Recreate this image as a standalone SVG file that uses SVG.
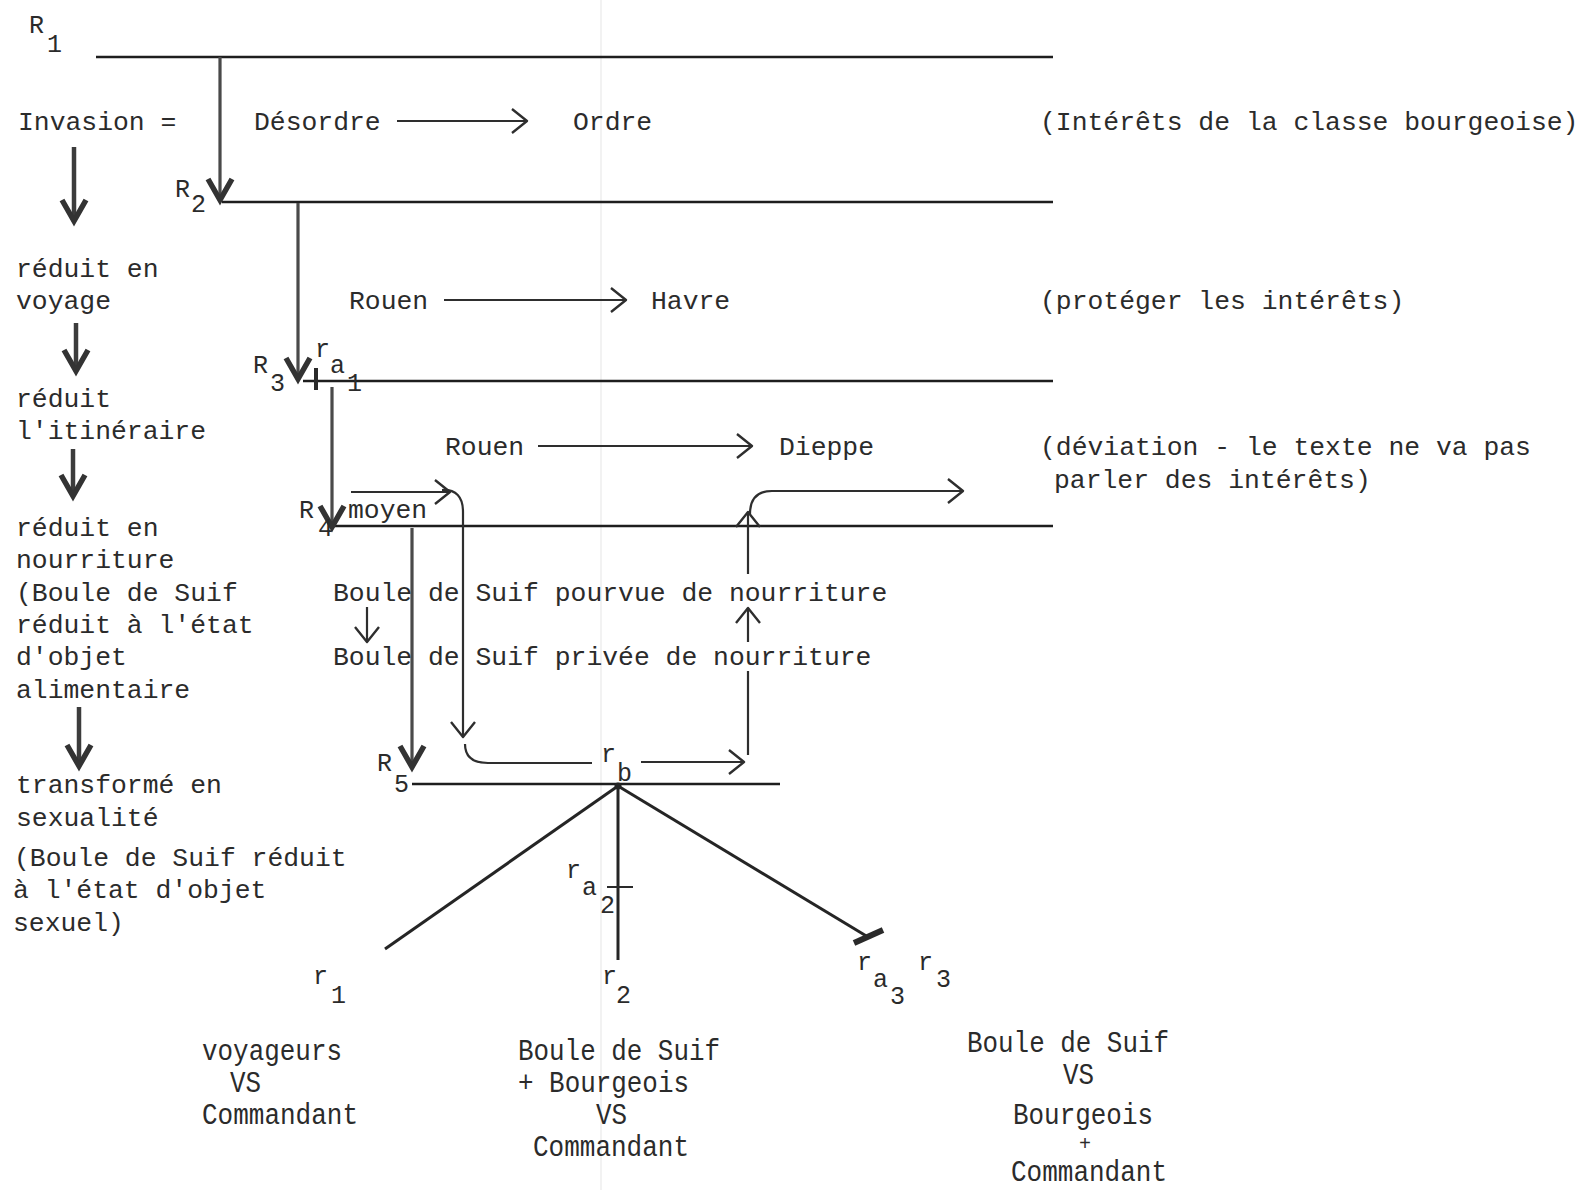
<svg xmlns="http://www.w3.org/2000/svg" width="1583" height="1190" viewBox="0 0 1583 1190">
  <style>
    .t { font-family: "Liberation Mono", "Courier New", monospace; font-size: 26.4px; fill: #2b2b2b; }
    .s { font-family: "Liberation Mono", "Courier New", monospace; font-size: 25px; fill: #2b2b2b; }
    .n { font-family: "Liberation Mono", "Courier New", monospace; font-size: 29px; fill: #2b2b2b; }
    .level { stroke: #1e1e1e; stroke-width: 2.6; fill: none; }
    .drop { stroke: #4a4a4a; stroke-width: 3.2; fill: none; marker-end: url(#vee); }
    .step { stroke: #3c3c3c; stroke-width: 4.5; fill: none; marker-end: url(#vee); }
    .thin { stroke: #2e2e2e; stroke-width: 2.2; fill: none; }
    .arr { marker-end: url(#chev); }
    .tree { stroke: #252525; stroke-width: 3; fill: none; }
  </style>
  <defs>
    <marker id="vee" markerUnits="userSpaceOnUse" orient="auto" overflow="visible" markerWidth="1" markerHeight="1" refX="0" refY="0">
      <path d="M-21,-12 L0,0 L-21,12" fill="none" stroke="#333" stroke-width="5.5" stroke-linejoin="miter"/>
    </marker>
    <marker id="chev" markerUnits="userSpaceOnUse" orient="auto" overflow="visible" markerWidth="1" markerHeight="1" refX="0" refY="0">
      <path d="M-15,-12 L0,0 L-15,12" fill="none" stroke="#2e2e2e" stroke-width="2.4" stroke-linejoin="round"/>
    </marker>
  </defs>

  <rect width="1583" height="1190" fill="#ffffff"/>
  <!-- paper fold -->
  <line x1="601" y1="0" x2="601" y2="1190" stroke="#eeeeee" stroke-width="1.5"/>

  <g id="connectors">
    <!-- reading levels -->
    <path class="level" d="M96,57 H1053"/>
    <path class="level" d="M222,202 H1053"/>
    <path class="level" d="M303,381 H1053"/>
    <path class="level" d="M333,526 H1053"/>
    <path class="level" d="M412,784 H780"/>

    <!-- descent between levels -->
    <path class="drop" d="M220,57 V200"/>
    <path class="drop" d="M298,203 V379"/>
    <path class="drop" d="M332,387 V527"/>
    <path class="drop" d="M412,528 V767"/>

    <!-- left column chain -->
    <path class="step" d="M74,147 V221"/>
    <path class="step" d="M76,323 V371"/>
    <path class="step" d="M73,449 V496"/>
    <path class="step" d="M79,707 V766"/>

    <!-- itinerary arrows -->
    <path class="thin arr" d="M397,121 H527"/>
    <path class="thin arr" d="M444,300 H626"/>
    <path class="thin arr" d="M538,446 H752"/>

    <!-- moyen loop -->
    <path class="thin arr" d="M351,492 H450"/>
    <path class="thin arr" d="M442,490 Q463,489 463,512 V737"/>
    <path class="thin" d="M465,744 Q465,763 488,763 H592" stroke-width="2.8"/>
    <path class="thin arr" d="M641,762 H744"/>
    <path class="thin" d="M748,755 V671"/>
    <path class="thin arr" d="M748,642 V608"/>
    <path class="thin arr" d="M748,574 V512"/>
    <path class="thin arr" d="M750,514 Q750,491 772,491 H963" stroke-width="2.8"/>
    <path class="thin arr" d="M367,607 V642" stroke-width="2.6"/>

    <!-- r_b branches -->
    <path class="tree" d="M618,786 L385,949"/>
    <path class="tree" d="M618,786 V960"/>
    <path class="tree" d="M618,786 L868,937"/>
    <circle cx="618" cy="786" r="3.5" fill="#252525"/>
    <path d="M854,943 L883,930" stroke="#2a2a2a" stroke-width="6"/>
    <path d="M607,887 H633" stroke="#2a2a2a" stroke-width="2"/>
    <path d="M316,368 V390" stroke="#2a2a2a" stroke-width="4"/>
  </g>

  <g id="level-labels">
    <text class="s" x="29" y="33">R</text><text class="s" x="47" y="52">1</text>
    <text class="s" x="175" y="197">R</text><text class="s" x="191" y="212">2</text>
    <text class="s" x="253" y="373">R</text><text class="s" x="270" y="391">3</text>
    <text class="s" x="299" y="518">R</text><text class="s" x="318" y="536">4</text>
    <text class="s" x="377" y="771">R</text><text class="s" x="394" y="792">5</text>
  </g>

  <g id="r-labels">
    <text class="s" x="315" y="357">r</text><text class="s" x="330" y="373">a</text><text class="s" x="347" y="391">1</text>
    <text class="s" x="601" y="762">r</text><text class="s" x="617" y="781">b</text>
    <text class="s" x="566" y="878">r</text><text class="s" x="582" y="895">a</text><text class="s" x="600" y="913">2</text>
    <text class="s" x="313" y="984">r</text><text class="s" x="331" y="1003">1</text>
    <text class="s" x="602" y="984">r</text><text class="s" x="616" y="1003">2</text>
    <text class="s" x="857" y="970">r</text><text class="s" x="873" y="987">a</text><text class="s" x="890" y="1004">3</text>
    <text class="s" x="918" y="970">r</text><text class="s" x="936" y="987">3</text>
  </g>

  <g id="chain">
    <text class="t" x="18" y="130">Invasion =</text>
    <text class="t" x="16" y="277">réduit en</text>
    <text class="t" x="16" y="309">voyage</text>
    <text class="t" x="16" y="407">réduit</text>
    <text class="t" x="16" y="439">l'itinéraire</text>
    <text class="t" x="16" y="536">réduit en</text>
    <text class="t" x="16" y="568">nourriture</text>
    <text class="t" x="16" y="601">(Boule de Suif</text>
    <text class="t" x="16" y="633">réduit à l'état</text>
    <text class="t" x="16" y="665">d'objet</text>
    <text class="t" x="16" y="698">alimentaire</text>
    <text class="t" x="16" y="793">transformé en</text>
    <text class="t" x="16" y="826">sexualité</text>
    <text class="t" x="14" y="866">(Boule de Suif réduit</text>
    <text class="t" x="13" y="898">à l'état d'objet</text>
    <text class="t" x="13" y="931">sexuel)</text>
  </g>

  <g id="level-1">
    <text class="t" x="254" y="130">Désordre</text>
    <text class="t" x="573" y="130">Ordre</text>
    <text class="t" x="1040" y="130">(Intérêts de la classe bourgeoise)</text>
  </g>

  <g id="level-2">
    <text class="t" x="349" y="309">Rouen</text>
    <text class="t" x="651" y="309">Havre</text>
    <text class="t" x="1040" y="309">(protéger les intérêts)</text>
  </g>

  <g id="level-3">
    <text class="t" x="445" y="455">Rouen</text>
    <text class="t" x="779" y="455">Dieppe</text>
    <text class="t" x="1040" y="455">(déviation - le texte ne va pas</text>
    <text class="t" x="1054" y="488">parler des intérêts)</text>
  </g>

  <g id="level-4">
    <text class="t" x="348" y="518">moyen</text>
    <text class="t" x="333" y="601">Boule de Suif pourvue de nourriture</text>
    <text class="t" x="333" y="665">Boule de Suif privée de nourriture</text>
  </g>

  <g id="outcome-1">
    <text class="n" x="202" y="1060" textLength="140" lengthAdjust="spacingAndGlyphs">voyageurs</text>
    <text class="n" x="230" y="1092" textLength="31" lengthAdjust="spacingAndGlyphs">VS</text>
    <text class="n" x="202" y="1124" textLength="156" lengthAdjust="spacingAndGlyphs">Commandant</text>
  </g>

  <g id="outcome-2">
    <text class="n" x="518" y="1060" textLength="202" lengthAdjust="spacingAndGlyphs">Boule de Suif</text>
    <text class="n" x="518" y="1092" textLength="171" lengthAdjust="spacingAndGlyphs">+ Bourgeois</text>
    <text class="n" x="596" y="1124" textLength="31" lengthAdjust="spacingAndGlyphs">VS</text>
    <text class="n" x="533" y="1156" textLength="156" lengthAdjust="spacingAndGlyphs">Commandant</text>
  </g>

  <g id="outcome-3">
    <text class="n" x="967" y="1052" textLength="202" lengthAdjust="spacingAndGlyphs">Boule de Suif</text>
    <text class="n" x="1063" y="1084" textLength="31" lengthAdjust="spacingAndGlyphs">VS</text>
    <text class="n" x="1013" y="1124" textLength="140" lengthAdjust="spacingAndGlyphs">Bourgeois</text>
    <text class="n" x="1079" y="1150" style="font-size:20px">+</text>
    <text class="n" x="1011" y="1181" textLength="156" lengthAdjust="spacingAndGlyphs">Commandant</text>
  </g>
</svg>
